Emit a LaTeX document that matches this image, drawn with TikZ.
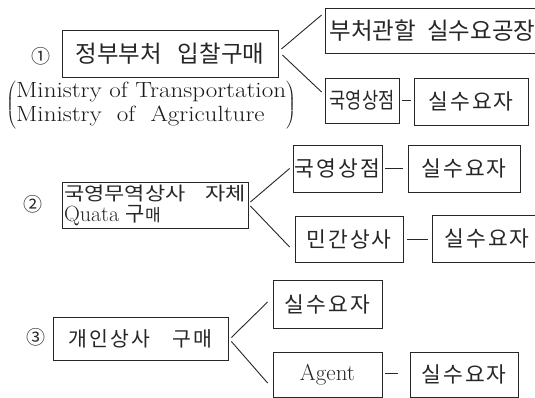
\documentclass[tikz,border=0pt]{standalone}
\usepackage{fontspec}
\usepackage{graphicx}
\usetikzlibrary{calc}
\newfontfamily\kr{Noto Sans CJK KR}
\newfontfamily\krs{Noto Sans CJK KR}[LetterSpace=10]
\tikzset{
  bx/.style={draw=black!85, line width=0.8pt, rectangle, inner sep=0pt, align=center, text=black!85},
  cn/.style={draw=black!85, line width=0.9pt},
  dsh/.style={draw=black!85, line width=0.9pt},
  num/.style={inner sep=0pt, text=black!85, font=\kr\fontsize{19}{20}\selectfont}
}
\begin{document}
\begin{tikzpicture}[x=1pt,y=-1pt]
\useasboundingbox (0,0) rectangle (535,398);
\clip (0,0) rectangle (535,398);
% Row 1
\node[num] (c1) at (41,56) {①};
\node[bx, minimum width=216pt, minimum height=47pt] (b1) at (170,53.5)
  {\kr\fontsize{23.5}{24}\selectfont 정부부처\hspace{16pt}입찰구매};
\node[bx, minimum width=215pt, minimum height=45pt] (t1) at (432.5,30.5)
  {\kr\fontsize{23.5}{24}\selectfont 부처관할\hspace{11pt}실수요공장};
\node[bx, minimum width=74pt, minimum height=45pt] (u1a) at (362,100.5)
  {\scalebox{0.8}[1]{\kr\fontsize{22}{24}\selectfont 국영상점}};
\node[bx, minimum width=114pt, minimum height=47pt] (u1b) at (471,101.5)
  {\krs\fontsize{21.5}{24}\selectfont 실수요자};
\node[anchor=west, inner sep=0pt, text=black!90] (min) at (6,105)
  {\scalebox{1.14}[1]{\fontsize{22}{24}\selectfont$\left(\begin{tabular}{@{}l@{}}Ministry of Transportation\\ Ministry\ \ of\ \ Agriculture\end{tabular}\right)$}};
\draw[cn] ($(b1.east)+(3,-4.5)$) -- ($(t1.west)+(-3,-15.5)$);
\draw[cn] ($(b1.east)+(4,1.5)$) -- ($(u1a.west)+(-3,-8.5)$);
\draw[dsh] ($(u1a.east)+(3,0)$) -- ($(u1a.east -| u1b.west)+(-3,0)$);
% Row 2
\node[num] (c2) at (33,204) {②};
\node[bx, minimum width=186pt, minimum height=46pt, align=left, font=\fontsize{22}{21}\selectfont] (b2) at (155,205)
  {\scalebox{1}[0.85]{\kr\fontsize{22}{21}\selectfont 국영무역상사\hspace{20pt}자체}\\
   Quata {\kr\fontsize{21}{21}\selectfont 구}{\kr\fontsize{17}{21}\selectfont 매}};
\node[bx, minimum width=89pt, minimum height=47pt] (u2a) at (337.5,168.5)
  {\krs\fontsize{21.5}{24}\selectfont 국영상점};
\node[bx, minimum width=112pt, minimum height=47pt] (u2a2) at (464,168.5)
  {\krs\fontsize{21.5}{24}\selectfont 실수요자};
\node[bx, minimum width=108pt, minimum height=46pt] (u2b) at (349,239)
  {\krs\fontsize{21.5}{24}\selectfont 민간상사};
\node[bx, minimum width=110pt, minimum height=47pt] (u2b2) at (487,238.5)
  {\krs\fontsize{21.5}{24}\selectfont 실수요자};
\draw[cn] ($(b2.east)+(2,-3)$) -- ($(u2a.west)+(-3,0)$);
\draw[cn] ($(b2.east)+(2,1)$) -- ($(u2b.west)+(-5,8)$);
\draw[dsh] ($(u2a.east)+(3,0)$) -- ($(u2a.east -| u2a2.west)+(-5,0)$);
\draw[dsh] ($(u2b.east)+(4,0)$) -- ($(u2b.east -| u2b2.west)+(-4,0)$);
% Row 3
\node[num] (c3) at (36,337) {③};
\node[bx, minimum width=175pt, minimum height=43pt] (b3) at (140.5,338.5)
  {\krs\fontsize{20.5}{22}\selectfont 개인상사\hspace{22pt}구매};
\node[bx, minimum width=109pt, minimum height=48pt] (u3a) at (327.5,304)
  {\krs\fontsize{21.5}{24}\selectfont 실수요자};
\node[bx, minimum width=109pt, minimum height=45pt] (u3b) at (327.5,374.5)
  {\fontsize{23}{24}\selectfont Agent};
\node[bx, minimum width=108pt, minimum height=45pt] (u3b2) at (464,374.5)
  {\krs\fontsize{21.5}{24}\selectfont 실수요자};
\draw[cn] ($(b3.east)+(3,-1)$) -- ($(u3a.west)+(-5,-2)$);
\draw[cn] ($(b3.east)+(3,3)$) -- ($(u3b.west)+(-5,8.5)$);
\draw[dsh] ($(u3b.east)+(3,-1.5)$) -- ($(u3b.east -| u3b2.west)+(-12,-1.5)$);
\end{tikzpicture}
\end{document}
